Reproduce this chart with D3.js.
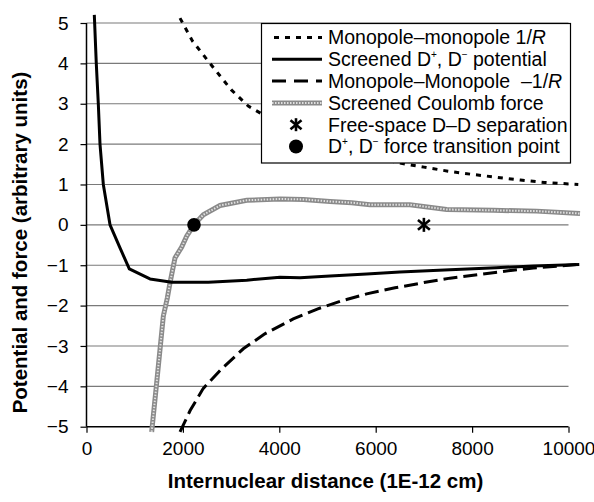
<!DOCTYPE html>
<html><head><meta charset="utf-8">
<script src="https://cdn.jsdelivr.net/npm/d3@7"></script>
<style>body{margin:0;background:#fff}svg{display:block}text{font-family:"Liberation Sans",Arial,sans-serif}</style>
</head><body>
<svg id="c" width="594" height="502"></svg>
<script>
// ---- data ----
const xTicks = [0, 2000, 4000, 6000, 8000, 10000];
const yTicks = [-5, -4, -3, -2, -1, 0, 1, 2, 3, 4, 5];

const potX = [162, 203, 245, 280, 349, 488, 695, 888, 1317, 1768, 2527, 3324, 4015, 4430, 5052, 5813, 6500, 7542, 8500, 9270, 10224];
const potY = [5.2, 4.0, 3.0, 2.0, 1.0, 0.0, -0.57, -1.09, -1.34, -1.42, -1.42, -1.37, -1.30, -1.31, -1.27, -1.22, -1.17, -1.11, -1.06, -1.02, -0.98];

const invX = [1940, 2200, 2562, 3000, 3357, 4000, 4500, 5000, 5500, 6000, 6504, 7000, 7500, 8000, 8500, 9000, 9500, 10203];
const invY = [5.12, 4.55, 4.0, 3.35, 2.94, 2.5, 2.2, 2.0, 1.82, 1.66, 1.53, 1.43, 1.33, 1.25, 1.18, 1.11, 1.05, 1.0];

const negX = [1940, 2150, 2423, 2800, 3253, 3700, 4290, 4800, 5300, 5813, 6400, 7000, 7542, 8200, 8800, 9270, 9800, 10224];
const negY = [-5.13, -4.6, -4.05, -3.57, -3.07, -2.7, -2.33, -2.08, -1.88, -1.71, -1.56, -1.43, -1.32, -1.22, -1.13, -1.07, -1.02, -0.98];

const forceX = [1352, 1456, 1594, 1677, 1732, 1836, 1975, 2078, 2230, 2424, 2770, 3324, 4015, 4500, 5052, 5500, 5882, 6712, 7473, 8440, 9340, 10239];
const forceY = [-5.13, -3.91, -2.26, -1.81, -1.44, -0.82, -0.55, -0.28, 0, 0.25, 0.48, 0.61, 0.64, 0.63, 0.58, 0.55, 0.50, 0.50, 0.38, 0.36, 0.34, 0.28];

const freeSpace = [7000, 0];
const transition = [2230, 0];

// ---- drawing ----
const svg = d3.select("#c");
const x = d3.scaleLinear().domain([0, 10000]).range([86.5, 568.5]);
const y = d3.scaleLinear().domain([-5, 5]).range([426.7, 23]);
const zip = (a, b) => a.map((v, i) => [v, b[i]]);
const line = d3.line().x(d => x(d[0])).y(d => y(d[1]));
const TICKF = 19, LEGF = 19.5, TITLEF = 20.5;
const FAM = '"Liberation Sans",Arial,sans-serif';

// gridlines
svg.append("g").selectAll("line").data(yTicks.filter(v => v > -5)).join("line")
  .attr("x1", x(0)).attr("x2", x(10000)).attr("y1", d => y(d)).attr("y2", d => y(d))
  .attr("stroke", "#7a7a7a").attr("stroke-width", 1.1);

// axes
const xa = svg.append("g").attr("transform", `translate(0,${y(-5)})`)
  .call(d3.axisBottom(x).tickValues(xTicks).tickSize(6).tickPadding(9).tickFormat(d3.format("d")));
const ya = svg.append("g").attr("transform", `translate(${x(0)},0)`)
  .call(d3.axisLeft(y).tickValues(yTicks).tickSize(6).tickPadding(12).tickFormat(d3.format("d")));
[xa, ya].forEach(a => {
  a.select(".domain").attr("stroke", "#000").attr("stroke-width", 1.5);
  a.selectAll(".tick line").attr("stroke", "#000").attr("stroke-width", 1.2);
  a.selectAll(".tick text").attr("font-size", TICKF).attr("font-family", FAM).attr("fill", "#000");
});
xa.select(".domain").attr("d", `M${x(0)},0H${x(10000)}`);
ya.select(".domain").attr("d", `M0,${y(5)}V${y(-5)}`);

// series
const g = svg.append("g");
g.append("path").datum(zip(negX, negY)).attr("d", line).attr("fill", "none")
  .attr("stroke", "#000").attr("stroke-width", 3).attr("stroke-dasharray", "14,6");
g.append("path").datum(zip(invX, invY)).attr("d", line).attr("fill", "none")
  .attr("stroke", "#000").attr("stroke-width", 3).attr("stroke-dasharray", "5,6");
g.append("path").datum(zip(forceX, forceY)).attr("d", line).attr("fill", "none")
  .attr("stroke", "#8a8a8a").attr("stroke-width", 5);
g.append("path").datum(zip(forceX, forceY)).attr("d", line).attr("fill", "none")
  .attr("stroke", "#e0e0e0").attr("stroke-width", 2).attr("stroke-dasharray", "1.5,1.5");
g.append("path").datum(zip(potX, potY)).attr("d", line).attr("fill", "none")
  .attr("stroke", "#000").attr("stroke-width", 3).attr("stroke-linejoin", "round");

// markers
function asterisk(sel, cx, cy, s) {
  const gg = sel.append("g").attr("transform", `translate(${cx},${cy})`).attr("stroke", "#000").attr("stroke-width", 2.6);
  gg.append("line").attr("x1", 0).attr("x2", 0).attr("y1", -s).attr("y2", s);
  gg.append("line").attr("x1", -s * 0.85).attr("x2", s * 0.85).attr("y1", -s * 0.7).attr("y2", s * 0.7);
  gg.append("line").attr("x1", -s * 0.85).attr("x2", s * 0.85).attr("y1", s * 0.7).attr("y2", -s * 0.7);
}
asterisk(svg, x(freeSpace[0]), y(freeSpace[1]), 7);
svg.append("circle").attr("cx", x(transition[0])).attr("cy", y(transition[1])).attr("r", 6.8).attr("fill", "#000");

// axis titles
svg.append("text").attr("x", 325.5).attr("y", 488).attr("text-anchor", "middle")
  .attr("font-size", TITLEF).attr("font-weight", "bold").text("Internuclear distance (1E-12 cm)");
svg.append("text").attr("transform", "translate(27,242.5) rotate(-90)").attr("text-anchor", "middle")
  .attr("font-size", TITLEF).attr("font-weight", "bold").text("Potential and force (arbitrary units)");

// legend
const lg = svg.append("g");
lg.append("rect").attr("x", 261.5).attr("y", 23.5).attr("width", 309).attr("height", 139.5)
  .attr("fill", "#fff").attr("stroke", "#000").attr("stroke-width", 1.2);
const rows = [37.5, 59.3, 81.1, 102.9, 124.7, 146.5];
const sx1 = 272, sx2 = 322, tx = 328;
lg.append("line").attr("x1", sx1 + 2).attr("x2", sx2).attr("y1", rows[0]).attr("y2", rows[0])
  .attr("stroke", "#000").attr("stroke-width", 3).attr("stroke-dasharray", "5,6");
lg.append("line").attr("x1", sx1).attr("x2", sx2).attr("y1", rows[1]).attr("y2", rows[1])
  .attr("stroke", "#000").attr("stroke-width", 3);
lg.append("line").attr("x1", sx1).attr("x2", sx2).attr("y1", rows[2]).attr("y2", rows[2])
  .attr("stroke", "#000").attr("stroke-width", 3).attr("stroke-dasharray", "14,8");
lg.append("line").attr("x1", sx1).attr("x2", sx2).attr("y1", rows[3]).attr("y2", rows[3])
  .attr("stroke", "#8a8a8a").attr("stroke-width", 5);
lg.append("line").attr("x1", sx1).attr("x2", sx2).attr("y1", rows[3]).attr("y2", rows[3])
  .attr("stroke", "#e0e0e0").attr("stroke-width", 2).attr("stroke-dasharray", "1.5,1.5");
asterisk(lg, 296, rows[4], 6.5);
lg.append("circle").attr("cx", 296).attr("cy", rows[5]).attr("r", 7).attr("fill", "#000");

function ltext(i) {
  return lg.append("text").attr("x", tx).attr("y", rows[i] + 6.8).attr("font-size", LEGF);
}
let t = ltext(0); t.append("tspan").text("Monopole\u2013monopole 1/"); t.append("tspan").attr("font-style", "italic").text("R");
t = ltext(1); t.append("tspan").text("Screened D"); t.append("tspan").attr("font-size", 10).attr("dy", -8).text("+");
t.append("tspan").attr("dy", 8).text(", D"); t.append("tspan").attr("font-size", 10).attr("dy", -8).text("\u2212");
t.append("tspan").attr("dy", 8).text(" potential");
t = ltext(2); t.style("white-space", "pre");
t.append("tspan").text("Monopole\u2013Monopole  \u20131/"); t.append("tspan").attr("font-style", "italic").text("R");
ltext(3).text("Screened Coulomb force");
ltext(4).text("Free-space D\u2013D separation");
t = ltext(5); t.append("tspan").text("D"); t.append("tspan").attr("font-size", 10).attr("dy", -8).text("+");
t.append("tspan").attr("dy", 8).text(", D"); t.append("tspan").attr("font-size", 10).attr("dy", -8).text("\u2212");
t.append("tspan").attr("dy", 8).text(" force transition point");
</script>
</body></html>
